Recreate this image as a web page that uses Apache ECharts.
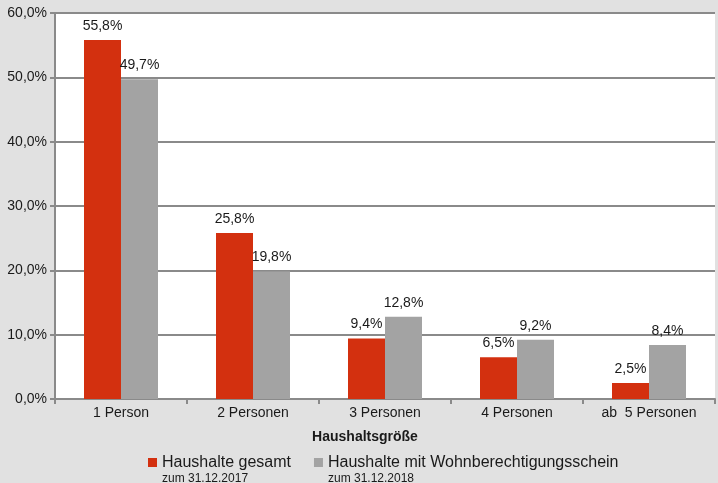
<!DOCTYPE html>
<html>
<head>
<meta charset="utf-8">
<script src="https://cdn.jsdelivr.net/npm/echarts@6/dist/echarts.min.js"></script>
<style>
  html, body { margin: 0; padding: 0; background: #e1e1e1; }
  #chart { width: 718px; height: 483px; }
</style>
</head>
<body>
<div id="chart"></div>
<script>
// Haushaltsgröße
const categories = ['1 Person', '2 Personen', '3 Personen', '4 Personen', 'ab  5 Personen']
const gesamt2017 = [55.8, 25.8, 9.4, 6.5, 2.5]
const wbs2018 = [49.7, 19.8, 12.8, 9.2, 8.4]
const seriesNames = ['Haushalte gesamt', 'Haushalte mit Wohnberechtigungsschein']
const seriesDates = ['zum 31.12.2017', 'zum 31.12.2018']

const font = '"Liberation Sans", Arial, sans-serif'
const txt = '#1a1a1a'
const lineGray = '#8a8a8a'

const pct = v => v.toFixed(1).replace('.', ',') + '%'

const chart = echarts.init(document.getElementById('chart'))

const barLabel = {
  show: true,
  position: 'top',
  distance: 7,
  color: txt,
  fontSize: 14,
  fontFamily: font,
  formatter: p => pct(p.value)
}

chart.setOption({
  backgroundColor: '#e1e1e1',
  animation: false,
  textStyle: { fontFamily: font },
  grid: {
    left: 55,
    right: 3,
    top: 13,
    bottom: 84,
    show: true,
    backgroundColor: '#ffffff',
    borderWidth: 0
  },
  legend: {
    left: 143,
    top: 435,
    itemWidth: 9,
    itemHeight: 9,
    itemGap: 23,
    icon: 'rect',
    data: seriesNames,
    formatter: name => {
      const i = seriesNames.indexOf(name)
      return '{s| }\n{a|' + name + '}\n{b|' + seriesDates[i] + '}'
    },
    textStyle: {
      color: txt,
      rich: {
        s: { fontSize: 12, lineHeight: 15 },
        a: { fontSize: 16, lineHeight: 18, color: txt, fontFamily: font },
        b: { fontSize: 12, lineHeight: 15, color: txt, fontFamily: font }
      }
    }
  },
  xAxis: {
    type: 'category',
    data: categories,
    name: 'Haushaltsgröße',
    nameLocation: 'middle',
    nameGap: 31,
    nameTextStyle: {
      color: txt,
      fontSize: 14,
      fontWeight: 'bold',
      fontFamily: font,
      padding: [0, 40, 0, 0]
    },
    axisLine: { lineStyle: { color: lineGray, width: 2 } },
    axisTick: { show: true, length: 5, lineStyle: { color: lineGray, width: 2 } },
    axisLabel: { color: txt, fontSize: 14, margin: 7, fontFamily: font }
  },
  yAxis: {
    type: 'value',
    min: 0,
    max: 60,
    interval: 10,
    axisLine: { show: true, lineStyle: { color: lineGray, width: 2 } },
    axisTick: { show: true, length: 5, lineStyle: { color: lineGray, width: 2 } },
    splitLine: { lineStyle: { color: lineGray, width: 2 } },
    axisLabel: { color: txt, fontSize: 14, margin: 8, fontFamily: font, formatter: v => pct(v) }
  },
  series: [
    {
      name: seriesNames[0],
      type: 'bar',
      data: gesamt2017,
      barWidth: 37,
      barGap: 0,
      itemStyle: { color: '#d3300f' },
      label: barLabel
    },
    {
      name: seriesNames[1],
      type: 'bar',
      data: wbs2018,
      barWidth: 37,
      barGap: 0,
      itemStyle: { color: '#a3a3a3' },
      label: barLabel
    }
  ]
})
</script>
</body>
</html>
